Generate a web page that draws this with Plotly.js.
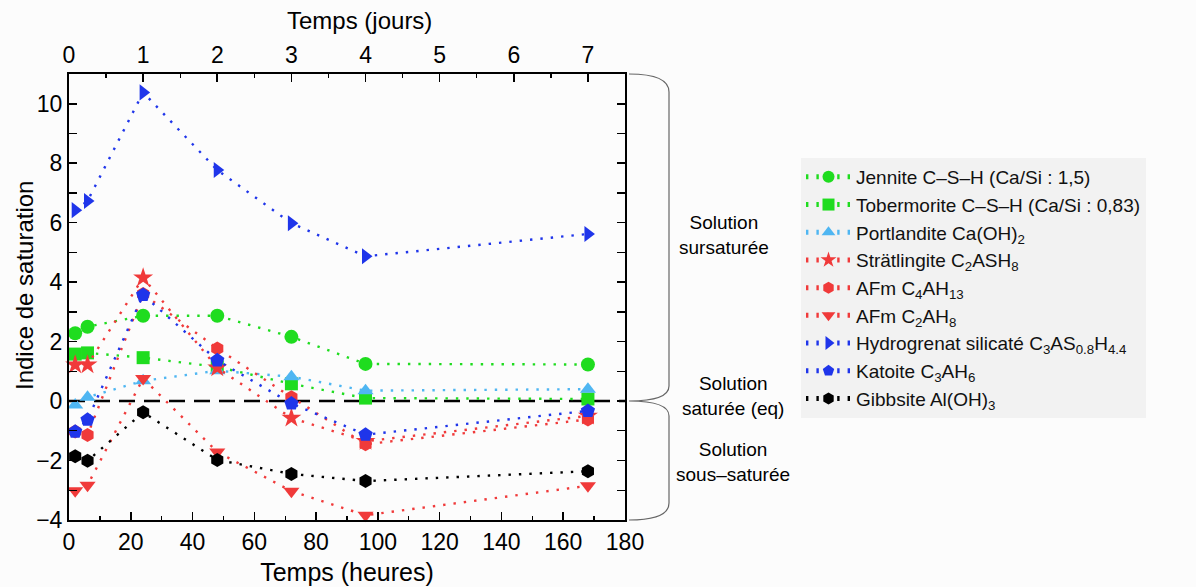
<!DOCTYPE html>
<html>
<head>
<meta charset="utf-8">
<script src="https://cdn.plot.ly/plotly-3.0.1.min.js"></script>
<style>html,body{margin:0;padding:0;background:#fcfcfc;}#chart{width:1196px;height:587px;}</style>
</head>
<body>
<div id="chart"></div>
<script>
// ---- data ----
const hours = [2, 6, 24, 48, 72, 96, 168];
const jennite      = [2.28, 2.50, 2.87, 2.87, 2.16, 1.25, 1.23];
const tobermorite  = [1.58, 1.62, 1.46, 1.15, 0.58, 0.10, 0.07];
const portlandite  = [-0.13, 0.13, 0.68, 1.02, 0.82, 0.35, 0.40];
const stratlingite = [1.22, 1.22, 4.15, 1.12, -0.57, -1.35, -0.50];
const afmC4AH13    = [-1.02, -1.14, 3.60, 1.77, 0.13, -1.45, -0.62];
const afmC2AH8     = [-3.02, -2.83, 0.76, -1.71, -3.03, -3.84, -2.85];
const hydrogrenat  = [6.42, 6.73, 10.38, 7.77, 5.98, 4.87, 5.62];
const katoite      = [-1.03, -0.63, 3.57, 1.37, -0.08, -1.13, -0.33];
const gibbsite     = [-1.86, -2.01, -0.38, -1.98, -2.45, -2.69, -2.36];

const names = [
  'Jennite C–S–H (Ca/Si : 1,5)',
  'Tobermorite C–S–H (Ca/Si : 0,83)',
  'Portlandite Ca(OH)<sub>2</sub>',
  'Strätlingite C<sub>2</sub>ASH<sub>8</sub>',
  'AFm C<sub>4</sub>AH<sub>13</sub>',
  'AFm C<sub>2</sub>AH<sub>8</sub>',
  'Hydrogrenat silicaté C<sub>3</sub>AS<sub>0.8</sub>H<sub>4.4</sub>',
  'Katoite C<sub>3</sub>AH<sub>6</sub>',
  'Gibbsite Al(OH)<sub>3</sub>'
];
const series = [jennite, tobermorite, portlandite, stratlingite, afmC4AH13, afmC2AH8, hydrogrenat, katoite, gibbsite];
const colors = ['#1fdc1f', '#1fdc1f', '#4fb6f2', '#f03a3a', '#f03a3a', '#f03a3a', '#1f35ea', '#1f35ea', '#000000'];
const symbols = ['circle', 'square', 'triangle-up', 'star', 'hexagon', 'triangle-down', 'triangle-right', 'pentagon', 'hexagon'];
const sizes = [14, 13, 14, 15, 14, 14, 14, 15, 14];

const dayTicks = [0, 1, 2, 3, 4, 5, 6, 7];

// ---- layout geometry ----
const W = 1196, H = 587;
const M = {l: 69, r: 571, t: 74, b: 67};
const pw = W - M.l - M.r, ph = H - M.t - M.b;
const px = x => (x - M.l) / pw;          // pixel -> paper x
const py = y => (H - M.b - y) / ph;      // pixel -> paper y

const traces = series.map((s, i) => ({
  x: hours, y: s, name: names[i], type: 'scatter', mode: 'lines+markers',
  line: {color: colors[i], width: 2.4, dash: '2.4px,8px'},
  marker: {color: colors[i], symbol: symbols[i], size: sizes[i], line: {width: 0}},
  xaxis: 'x', yaxis: 'y', cliponaxis: false
}));

const font = 'Liberation Sans, Arimo, Arial, sans-serif';

const brace = [
  'M', px(629), py(74),
  'Q', px(669), py(74), px(669), py(92),
  'L', px(669), py(386),
  'Q', px(669), py(401), px(629), py(401),
  'Q', px(669), py(401), px(669), py(416),
  'L', px(669), py(503),
  'Q', px(669), py(520), px(629), py(520)
];
let path = '';
for (let i = 0; i < brace.length; ) {
  const c = brace[i++];
  const n = c === 'Q' ? 4 : 2;
  path += c + ' ';
  for (let k = 0; k < n; k += 2) { path += brace[i + k] + ',' + brace[i + k + 1] + ' '; }
  i += n;
}

const ann = (x, y, text, size, angle) => ({
  xref: 'paper', yref: 'paper', x: px(x), y: py(y), text: text,
  xanchor: 'center', yanchor: 'middle', showarrow: false,
  font: {size: size}, align: 'center', textangle: angle || 0
});

const layout = {
  width: W, height: H,
  margin: M,
  paper_bgcolor: '#fcfcfc', plot_bgcolor: '#fcfcfc',
  font: {family: font, color: '#000', size: 20},
  showlegend: true,
  legend: {
    x: px(801), y: py(158), xanchor: 'left', yanchor: 'top',
    bgcolor: '#f2f2f2', font: {size: 19, family: font, color: '#111'},
    tracegroupgap: 0, itemsizing: 'constant', itemwidth: 45
  },
  xaxis: {
    range: [0, 180], dtick: 20, tick0: 0,
    ticks: 'inside', ticklen: 8, tickwidth: 1.6, tickcolor: '#000',
    minor: {dtick: 10, ticks: 'inside', ticklen: 4, tickwidth: 1.4, tickcolor: '#000'},
    showline: true, linecolor: '#000', linewidth: 2, showgrid: false, zeroline: false,
    tickfont: {size: 23},
    title: {text: 'Temps (heures)', font: {size: 25}, standoff: 10}
  },
  xaxis2: {
    overlaying: 'x', side: 'top', range: [0, 7.5],
    tickvals: dayTicks, ticktext: dayTicks.map(String),
    ticks: 'inside', ticklen: 8, tickwidth: 1.6, tickcolor: '#000',
    minor: {dtick: 0.5, ticks: 'inside', ticklen: 4, tickwidth: 1.4, tickcolor: '#000'},
    showline: true, linecolor: '#000', linewidth: 2, showgrid: false, zeroline: false,
    tickfont: {size: 23}
  },
  yaxis: {
    range: [-4, 11], tickvals: [-4, -2, 0, 2, 4, 6, 8, 10],
    ticks: 'inside', ticklen: 8, tickwidth: 1.6, tickcolor: '#000',
    minor: {dtick: 1, ticks: 'inside', ticklen: 4, tickwidth: 1.4, tickcolor: '#000'},
    mirror: 'allticks',
    showline: true, linecolor: '#000', linewidth: 2, showgrid: false, zeroline: false,
    tickfont: {size: 23}
  },
  shapes: [
    {type: 'line', xref: 'x', yref: 'y', x0: 0, x1: 180, y0: 0, y1: 0,
     line: {color: '#000', width: 2.6, dash: '16px,9px'}, layer: 'below'},
    {type: 'path', xref: 'paper', yref: 'paper', path: path,
     line: {color: '#666', width: 1.2}}
  ],
  annotations: [
    ann(359, 20, 'Temps (jours)', 24),
    ann(24, 286, 'Indice de saturation', 24, -90),
    ann(724, 235, 'Solution<br>sursaturée', 19),
    ann(733, 396, 'Solution<br>saturée (eq)', 19),
    ann(733, 462, 'Solution<br>sous–saturée', 19)
  ]
};

// invisible trace so the top (days) axis is drawn
traces.push({x: [0], y: [0], xaxis: 'x2', yaxis: 'y', mode: 'markers',
  marker: {opacity: 0}, showlegend: false, hoverinfo: 'skip'});

Plotly.newPlot('chart', traces, layout, {displayModeBar: false, staticPlot: true});
</script>
</body>
</html>
